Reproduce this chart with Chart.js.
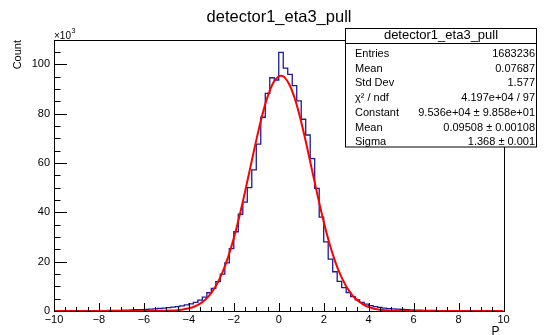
<!DOCTYPE html>
<html>
<head>
<meta charset="utf-8">
<script src="https://cdn.jsdelivr.net/npm/chart.js@4/dist/chart.umd.min.js"></script>
<style>
  html, body { margin: 0; padding: 0; background: #fff; }
</style>
</head>
<body>
<canvas id="myChart" width="544" height="335"></canvas>
<script>
// histogram: 100 bins of 0.2 from -10 to 10, counts in units of 10^3
const xMin = -10;
const xMax = 10;
const binWidth = 0.2;
const counts = [
  0.04, 0.05, 0.05, 0.06, 0.07, 0.08, 0.09, 0.10, 0.12, 0.14,
  0.16, 0.18, 0.21, 0.24, 0.28, 0.32, 0.37, 0.43, 0.50, 0.58,
  0.67, 0.77, 0.89, 1.02, 1.17, 1.35, 1.55, 1.8, 2.1, 2.5,
  2.9, 3.5, 4.4, 5.6, 7.4, 9.2, 11.9, 14.9, 19.5, 25.3,
  32.1, 39.2, 44.1, 50.0, 57.2, 67.6, 78.5, 88.2, 94.5, 93.6,
  104.8, 98.4, 95.9, 91.3, 85.1, 77.7, 71.3, 61.7, 49.7, 38.0,
  28.0, 21.0, 15.9, 12.0, 9.5, 7.5, 5.8, 4.5, 3.5, 2.8,
  2.2, 1.8, 1.45, 1.2, 1.0, 0.85, 0.72, 0.62, 0.53, 0.45,
  0.39, 0.33, 0.28, 0.24, 0.20, 0.17, 0.15, 0.13, 0.11, 0.09,
  0.08, 0.07, 0.06, 0.05, 0.05, 0.04, 0.04, 0.03, 0.03, 0.03
];

// gaus fit curve (red)
const fitX = [-10, -7, -6, -5.5, -5.25, -5, -4.75, -4.5, -4.25, -4, -3.75, -3.5, -3.25, -3, -2.75, -2.5, -2.25, -2, -1.75, -1.5, -1.25, -1, -0.75, -0.5, -0.25, 0, 0.1, 0.25, 0.5, 0.75, 1, 1.25, 1.5, 1.75, 2, 2.25, 2.5, 2.75, 3, 3.25, 3.5, 3.75, 4, 4.25, 4.5, 4.75, 5, 5.25, 5.5, 6, 7, 10];
const fitY = [0, 0, 0.01, 0.02, 0.05, 0.09, 0.18, 0.34, 0.61, 1.08, 1.84, 3.02, 4.80, 7.38, 10.97, 15.78, 21.95, 29.52, 38.41, 48.33, 58.81, 69.22, 78.80, 86.75, 92.38, 95.13, 95.36, 94.75, 91.27, 85.03, 76.62, 66.77, 56.28, 45.87, 36.16, 27.57, 20.34, 14.50, 10.00, 6.67, 4.31, 2.69, 1.62, 0.95, 0.53, 0.29, 0.15, 0.08, 0.04, 0.01, 0, 0];

const xTicks = [-10, -8, -6, -4, -2, 0, 2, 4, 6, 8, 10];
const yTicks = [0, 20, 40, 60, 80, 100];
const yMax = 109.8;

const statsTitle = 'detector1_eta3_pull';
const statsLabels = ['Entries', 'Mean', 'Std Dev', 'χ² / ndf', 'Constant', 'Mean', 'Sigma'];
const statsValues = ['1683236', '0.07687', '1.577', '4.197e+04 / 97', '9.536e+04 ± 9.858e+01', '0.09508 ± 0.00108', '1.368 ± 0.001'];

const FONT = '"Liberation Sans", Arial, Helvetica, sans-serif';

let histPoints = counts.map(function (v, i) {
  return { x: xMin + i * binWidth, y: v };
});
histPoints.push({ x: xMax, y: counts[counts.length - 1] });

let fitPoints = fitX.map(function (x, i) {
  return { x: x, y: fitY[i] };
});

// frame, inner ticks, axis titles and stats box in ROOT style
const rootDecor = {
  id: 'rootDecor',
  afterDraw(chart) {
    const ctx = chart.ctx;
    const a = chart.chartArea;
    const xs = chart.scales.x;
    const ys = chart.scales.y;
    ctx.save();
    ctx.strokeStyle = '#000';
    ctx.lineWidth = 1;

    // frame
    ctx.strokeRect(Math.round(a.left) + 0.5, Math.round(a.top) + 0.5,
      Math.round(a.right - a.left), Math.round(a.bottom - a.top));

    // x ticks (inside)
    ctx.beginPath();
    for (let v = xMin; v <= xMax + 1e-9; v += 0.5) {
      const px = Math.round(xs.getPixelForValue(v)) + 0.5;
      const len = (Math.abs(v % 2) < 1e-9) ? 8 : 4;
      ctx.moveTo(px, a.bottom);
      ctx.lineTo(px, a.bottom - len);
    }
    // y ticks (inside)
    for (let v = 0; v <= yMax; v += 5) {
      const py = Math.round(ys.getPixelForValue(v)) + 0.5;
      const len = (v % 20 === 0) ? 13 : 6.5;
      ctx.moveTo(a.left, py);
      ctx.lineTo(a.left + len, py);
    }
    ctx.stroke();

    ctx.fillStyle = '#000';
    // x10^3
    ctx.textAlign = 'left';
    ctx.textBaseline = 'alphabetic';
    ctx.font = '10px ' + FONT;
    ctx.fillText('×10', a.left, 38.5);
    const w = ctx.measureText('×10').width;
    ctx.font = '7px ' + FONT;
    ctx.fillText('3', a.left + w + 0.5, 33);

    // title
    ctx.font = '16.5px ' + FONT;
    ctx.textAlign = 'center';
    ctx.fillText(statsTitle, 279, 22);

    // y title
    ctx.save();
    ctx.translate(20.5, a.top);
    ctx.rotate(-Math.PI / 2);
    ctx.font = '11px ' + FONT;
    ctx.textAlign = 'right';
    ctx.fillText('Count', 0, 0);
    ctx.restore();

    // x title
    ctx.font = '12px ' + FONT;
    ctx.textAlign = 'left';
    ctx.fillText('P', 491.5, 335);
    ctx.font = '8px ' + FONT;
    ctx.fillText('Δ', 498.5, 340);

    // stats box
    const bx = 345.5, by = 28.5, bw = 191, bh = 118.5;
    ctx.fillStyle = '#fff';
    ctx.fillRect(bx, by, bw, bh);
    ctx.strokeRect(bx, by, bw, bh);
    ctx.beginPath();
    ctx.moveTo(bx, 43.5);
    ctx.lineTo(bx + bw, 43.5);
    ctx.stroke();
    ctx.fillStyle = '#000';
    ctx.font = '13px ' + FONT;
    ctx.textAlign = 'center';
    ctx.fillText(statsTitle, bx + bw / 2, 38.5);
    ctx.font = '11px ' + FONT;
    ctx.textBaseline = 'middle';
    for (let i = 0; i < statsLabels.length; i++) {
      const ty = 54 + i * 14.7;
      ctx.textAlign = 'left';
      ctx.fillText(statsLabels[i], 355, ty);
      ctx.textAlign = 'right';
      ctx.fillText(statsValues[i], 535, ty);
    }
    ctx.restore();
  }
};

new Chart(document.getElementById('myChart'), {
  type: 'line',
  data: {
    datasets: [{
      label: 'gaus',
      data: fitPoints,
      borderColor: '#ff0000',
      borderWidth: 2,
      pointRadius: 0,
      cubicInterpolationMode: 'monotone',
      fill: false,
      order: 0
    }, {
      label: 'detector1_eta3_pull',
      data: histPoints,
      borderColor: '#1a1a9c',
      borderWidth: 1.3,
      pointRadius: 0,
      stepped: true,
      fill: false,
      order: 1
    }]
  },
  options: {
    responsive: false,
    animation: false,
    layout: { padding: { top: 40, right: 40.5, left: 0, bottom: 0 } },
    plugins: {
      legend: { display: false },
      tooltip: { enabled: false },
      title: { display: false }
    },
    scales: {
      x: {
        type: 'linear',
        min: xMin,
        max: xMax,
        grid: { display: false, drawTicks: false, tickLength: 0 },
        border: { display: false },
        afterBuildTicks: function (s) { s.ticks = xTicks.map(function (v) { return { value: v }; }); },
        afterFit: function (s) { s.height = 24; },
        ticks: {
          autoSkip: false,
          maxRotation: 0,
          padding: 2,
          color: '#000',
          font: { family: FONT, size: 11 },
          callback: function (v) { return (v < 0 ? '\u2212' : '') + Math.abs(v); }
        }
      },
      y: {
        type: 'linear',
        min: 0,
        max: yMax,
        grid: { display: false, drawTicks: false, tickLength: 0 },
        border: { display: false },
        afterBuildTicks: function (s) { s.ticks = yTicks.map(function (v) { return { value: v }; }); },
        afterFit: function (s) { s.width = 54; },
        ticks: {
          padding: 4,
          color: '#000',
          font: { family: FONT, size: 11 }
        }
      }
    }
  },
  plugins: [rootDecor]
});
</script>
</body>
</html>
